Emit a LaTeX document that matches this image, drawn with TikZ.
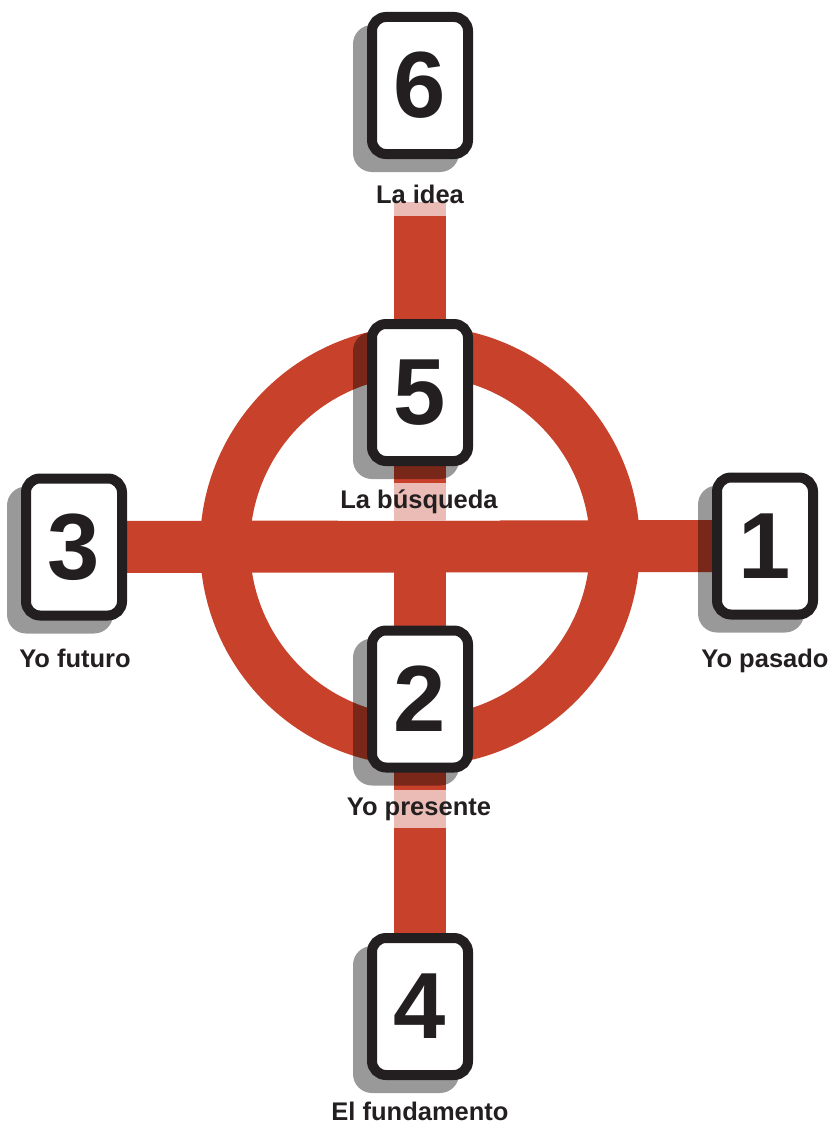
\documentclass[tikz,border=0pt]{standalone}
\usepackage{fontspec}
\setmainfont{Liberation Sans}
\definecolor{crossred}{HTML}{C8412B}
\definecolor{cardline}{HTML}{231F20}
\pgfdeclarelayer{bars}
\pgfdeclarelayer{shadows}
\pgfsetlayers{bars,shadows,main}
\begin{document}
\begin{tikzpicture}[x=1pt,y=-1pt,
  card/.style={draw=cardline, line width=10pt, fill=white, rounded corners=14pt,
    minimum width=96pt, minimum height=137pt, inner sep=0pt, text=cardline,
    font=\fontsize{94}{94}\selectfont\bfseries},
  cardshadow/.style={fill=black, fill opacity=0.4, rounded corners=19pt,
    minimum width=106pt, minimum height=147pt, inner sep=0pt, outer sep=0pt},
  lbl/.style={anchor=base, fill=white, fill opacity=0.65, text opacity=1, text=cardline,
    text height=18pt, text depth=5.5pt, inner ysep=7.5pt, inner xsep=2pt,
    font=\fontsize{25.5}{25.5}\selectfont\bfseries},
  bar/.style={draw=crossred, line width=52pt},
  ring/.style={draw=crossred, line width=50pt},
]
\useasboundingbox (0,0) rectangle (831,1124);

% cards
\node[card] (c6) at (420,85.5) {6};
\node[card] (c5) at (420,392.5) {5};
\node[card] (c3) at (74,547) {3};
\node[card] (c1) at (765,546) {1};
\node[card] (c2) at (420,699) {2};
\node[card] (c4) at (420,1006.5) {4};

% labels
\node[lbl] (l6) at (420,203) {La idea};
\node[lbl] (l5) at (419,508) {La búsqueda};
\node[lbl] (l3) at (75,667) {Yo futuro};
\node[lbl] (l1) at (765,667) {Yo pasado};
\node[lbl] (l2) at (419,815) {Yo presente};
\node[lbl, text depth=0pt, inner ysep=1pt, fill=none] (l4) at (420,1120) {El fundamento};

% shadows
\begin{pgfonlayer}{shadows}
\node[cardshadow] (s6) at ([shift={(-14,13)}]c6.center) {};
\node[cardshadow] (s5) at ([shift={(-14,13)}]c5.center) {};
\node[cardshadow] (s3) at ([shift={(-14,13)}]c3.center) {};
\node[cardshadow] (s1) at ([shift={(-14,13)}]c1.center) {};
\node[cardshadow] (s2) at ([shift={(-14,13)}]c2.center) {};
\node[cardshadow] (s4) at ([shift={(-14,13)}]c4.center) {};
\end{pgfonlayer}

% cross and ring
\begin{pgfonlayer}{bars}
\coordinate (top) at (420,202);
\coordinate (O) at (420,546);
\draw[bar] (top) -- (c4.center);
\draw[bar] (c3.center) -- (c1.center);
\draw[ring] (O) circle (195pt);
\end{pgfonlayer}
\end{tikzpicture}
\end{document}
